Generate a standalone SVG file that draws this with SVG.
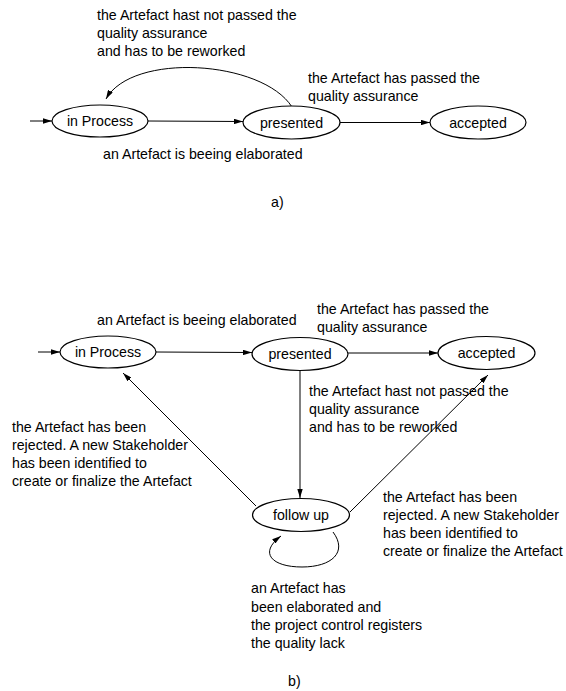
<svg xmlns="http://www.w3.org/2000/svg" width="566" height="691" viewBox="0 0 566 691">
<style>
text{font-family:"Liberation Sans",Arial,sans-serif;font-size:14.2px;fill:#000}
.node ellipse{fill:#fff;stroke:#000;stroke-width:1.2}
.node text{text-anchor:middle}
.conn path,.conn line{fill:none;stroke:#000;stroke-width:1;marker-end:url(#ah)}
</style>
<defs>
<marker id="ah" viewBox="0 0 10 6" refX="10" refY="3" markerWidth="9" markerHeight="5.5" orient="auto" markerUnits="userSpaceOnUse"><path d="M0,0 L10,3 L0,6 z" fill="#000"/></marker>
</defs>
<rect width="566" height="691" fill="#fff"/>

<!-- diagram a -->
<g id="a-conn" class="conn">
<line x1="30" y1="121" x2="52" y2="121"/>
<line x1="148" y1="121" x2="243" y2="121.5"/>
<line x1="340" y1="122.5" x2="430" y2="122.5"/>
<path d="M292 107 C262 60,132 52,106 99"/>
</g>
<g id="a-inprocess" class="node"><ellipse cx="100" cy="121" rx="48" ry="16"/><text x="100" y="126">in Process</text></g>
<g id="a-presented" class="node"><ellipse cx="291.5" cy="122.5" rx="48.5" ry="16.5"/><text x="291.5" y="127.5">presented</text></g>
<g id="a-accepted" class="node"><ellipse cx="478" cy="122.5" rx="48" ry="16.5"/><text x="478" y="127.5">accepted</text></g>
<g id="a-labels">
<text x="97" y="20">the Artefact hast not passed the</text>
<text x="97" y="37.8">quality assurance</text>
<text x="97" y="55.6">and has to be reworked</text>
<text x="308" y="83">the Artefact has passed the</text>
<text x="308" y="101">quality assurance</text>
<text x="103" y="159">an Artefact is beeing elaborated</text>
<text x="271" y="207">a)</text>
</g>

<!-- diagram b -->
<g id="b-conn" class="conn">
<line x1="38" y1="352" x2="60" y2="352"/>
<line x1="156" y1="352" x2="252" y2="352.5"/>
<line x1="348" y1="353" x2="438" y2="353"/>
<line x1="300" y1="370.5" x2="300" y2="498"/>
<line x1="256" y1="506" x2="123" y2="373"/>
<line x1="350" y1="512" x2="488" y2="375"/>
<path d="M333 532 C348 552,332 567,302 567 C272 567,258 553,281 536"/>
</g>
<g id="b-inprocess" class="node"><ellipse cx="108" cy="352" rx="48" ry="16"/><text x="108" y="357">in Process</text></g>
<g id="b-presented" class="node"><ellipse cx="300" cy="354" rx="48" ry="16.5"/><text x="300" y="359">presented</text></g>
<g id="b-accepted" class="node"><ellipse cx="486.5" cy="353" rx="48.5" ry="16.5"/><text x="486.5" y="358">accepted</text></g>
<g id="b-followup" class="node"><ellipse cx="301" cy="515" rx="48.5" ry="16.5"/><text x="301" y="520">follow up</text></g>
<g id="b-labels">
<text x="97" y="325">an Artefact is beeing elaborated</text>
<text x="317" y="313.5">the Artefact has passed the</text>
<text x="317" y="331.5">quality assurance</text>
<text x="309" y="395.5">the Artefact hast not passed the</text>
<text x="309" y="413.5">quality assurance</text>
<text x="309" y="431.5">and has to be reworked</text>
<text x="12" y="431.5">the Artefact has been</text>
<text x="12" y="449.7">rejected. A new Stakeholder</text>
<text x="12" y="467.9">has been identified to</text>
<text x="12" y="486.1">create or finalize the Artefact</text>
<text x="383" y="501.5">the Artefact has been</text>
<text x="383" y="519.7">rejected. A new Stakeholder</text>
<text x="383" y="537.9">has been identified to</text>
<text x="383" y="556.1">create or finalize the Artefact</text>
<text x="251" y="593.3">an Artefact has</text>
<text x="251" y="611.6">been elaborated and</text>
<text x="251" y="629.9">the project control registers</text>
<text x="251" y="648.2">the quality lack</text>
<text x="288" y="686">b)</text>
</g>
</svg>
